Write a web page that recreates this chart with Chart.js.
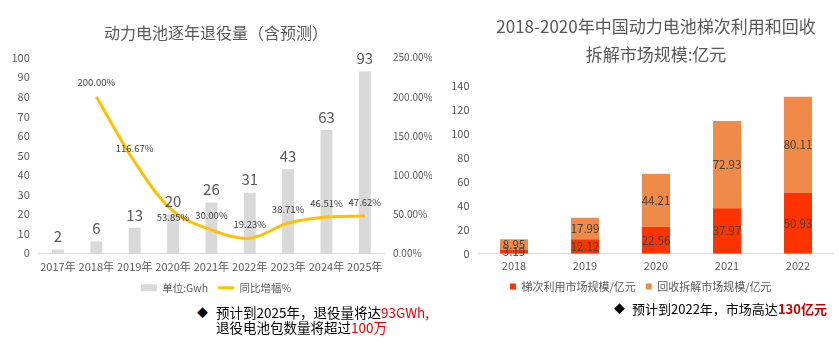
<!DOCTYPE html>
<html>
<head>
<meta charset="utf-8">
<script src="https://cdn.jsdelivr.net/npm/chart.js@4.4.0/dist/chart.umd.min.js"></script>
<style>
  body { margin: 0; background: #fff; width: 839px; height: 352px; overflow: hidden; position: relative;
         font-family: "Noto Sans CJK SC", "Noto Sans", sans-serif; }
  #cajaRetiro { position: absolute; left: 0; top: 0; width: 440px; height: 303px; }
  #cajaMercado { position: absolute; left: 440px; top: 0; width: 399px; height: 302px; }
  .nota { position: absolute; font-size: 13.5px; line-height: 15px; color: #000; white-space: nowrap; }
  .rombo { position: absolute; font-size: 11px; line-height: 15px; color: #000; }
  .rojo { color: #e60000; }
  .rojoFuerte { color: #c00000; font-weight: bold; }
</style>
</head>
<body>
<div id="cajaRetiro"><canvas id="graficoRetiro"></canvas></div>
<div id="cajaMercado"><canvas id="graficoMercado"></canvas></div>

<div class="rombo" style="left:197px;top:305px;">◆</div>
<div class="nota" style="left:216px;top:305px;">预计到2025年，退役量将达<span class="rojo">93GWh,</span><br>退役电池包数量将超过<span class="rojo">100万</span></div>

<div class="rombo" style="left:614px;top:301px;">◆</div>
<div class="nota" style="left:632px;top:301px;font-size:13px;">预计到2022年，市场高达<span class="rojoFuerte">130亿元</span></div>

<script>
// datos del grafico izquierdo
const anios = ['2017年', '2018年', '2019年', '2020年', '2021年', '2022年', '2023年', '2024年', '2025年'];
const retiroGwh = [2, 6, 13, 20, 26, 31, 43, 63, 93];
const crecimiento = [null, 200.00, 116.67, 53.85, 30.00, 19.23, 38.71, 46.51, 47.62];

// datos del grafico derecho
const aniosMercado = ['2018', '2019', '2020', '2021', '2022'];
const escalonado = [3.19, 12.12, 22.56, 37.97, 50.93];
const reciclaje = [8.95, 17.99, 44.21, 72.93, 80.11];

Chart.defaults.font.family = '"Noto Sans CJK SC", "Noto Sans", sans-serif';
Chart.defaults.color = '#595959';

const gris = '#595959';

// etiquetas del grafico izquierdo
const etiquetasRetiro = {
  id: 'etiquetasRetiro',
  afterDatasetsDraw(chart) {
    const ctx = chart.ctx;
    ctx.save();
    ctx.textAlign = 'center';
    ctx.textBaseline = 'middle';
    chart.getDatasetMeta(0).data.forEach((barra, i) => {
      ctx.font = '15px "Noto Sans CJK SC", sans-serif';
      ctx.fillStyle = gris;
      ctx.fillText(retiroGwh[i], barra.x, barra.y - 13);
    });
    chart.getDatasetMeta(1).data.forEach((punto, i) => {
      if (crecimiento[i] == null) return;
      ctx.font = '9.5px "Noto Sans CJK SC", sans-serif';
      ctx.fillStyle = '#404040';
      const desplazamiento = i === 3 ? -6 : 14;
      ctx.fillText(crecimiento[i].toFixed(2) + '%', punto.x, punto.y - desplazamiento);
    });
    ctx.restore();
  }
};

// etiquetas del grafico derecho
const etiquetasMercado = {
  id: 'etiquetasMercado',
  afterDatasetsDraw(chart) {
    const ctx = chart.ctx;
    ctx.save();
    ctx.textAlign = 'center';
    ctx.textBaseline = 'middle';
    ctx.font = '11.5px "Noto Sans CJK SC", sans-serif';
    ctx.fillStyle = '#404040';
    [escalonado, reciclaje].forEach((serie, d) => {
      chart.getDatasetMeta(d).data.forEach((barra, i) => {
        ctx.fillText(serie[i].toFixed(2), barra.x, (barra.y + barra.base) / 2);
      });
    });
    ctx.restore();
  }
};

let chart = new Chart(document.getElementById('graficoRetiro').getContext('2d'), {
  type: 'bar',
  data: {
    labels: anios,
    datasets: [
      {
        label: '单位:Gwh',
        data: retiroGwh,
        backgroundColor: '#d9d9d9',
        borderWidth: 0,
        barPercentage: 0.31,
        categoryPercentage: 1,
        pointStyle: 'rect',
        yAxisID: 'y',
        order: 2
      },
      {
        type: 'line',
        label: '同比增幅%',
        data: crecimiento,
        borderColor: '#ffc000',
        backgroundColor: '#ffc000',
        borderWidth: 3,
        pointRadius: 0,
        tension: 0.35,
        pointStyle: 'line',
        yAxisID: 'y1',
        order: 1
      }
    ]
  },
  options: {
    responsive: true,
    maintainAspectRatio: false,
    animation: false,
    layout: { padding: { left: 0, right: 8, top: 0, bottom: 0 } },
    plugins: {
      title: {
        display: true,
        text: '动力电池逐年退役量（含预测）',
        color: gris,
        font: { size: 16, weight: 'normal' },
        padding: { top: 23.4, bottom: 15.1 }
      },
      legend: {
        position: 'bottom',
        labels: {
          usePointStyle: true,
          pointStyleWidth: 16,
          boxHeight: 7,
          padding: 10,
          color: gris,
          font: { size: 10.5 },
          sort: (a, b) => a.datasetIndex - b.datasetIndex
        }
      },
      tooltip: { enabled: false }
    },
    scales: {
      x: {
        grid: { display: false, drawTicks: false },
        border: { display: true, color: '#d9d9d9' },
        ticks: { padding: 7, color: gris, font: { size: 11 }, maxRotation: 0, minRotation: 0, autoSkip: false },
        afterFit(scale) { scale.height = 19.2; }
      },
      y: {
        position: 'left',
        min: 0, max: 100,
        ticks: { stepSize: 10, padding: 9, color: gris, font: { size: 11 } },
        grid: { display: false, drawTicks: false },
        border: { display: false },
        afterFit(scale) { scale.width = 38.8; }
      },
      y1: {
        position: 'right',
        min: 0, max: 250,
        ticks: {
          stepSize: 50, padding: 9, color: gris, font: { size: 10 },
          callback: v => v.toFixed(2) + '%'
        },
        grid: { display: false, drawTicks: false },
        border: { display: false },
        afterFit(scale) { scale.width = 48; }
      }
    }
  },
  plugins: [etiquetasRetiro]
});

let chartMercado = new Chart(document.getElementById('graficoMercado').getContext('2d'), {
  type: 'bar',
  data: {
    labels: aniosMercado,
    datasets: [
      {
        label: '梯次利用市场规模/亿元',
        data: escalonado,
        backgroundColor: '#ff3300',
        borderWidth: 0,
        barPercentage: 0.394,
        categoryPercentage: 1
      },
      {
        label: '回收拆解市场规模/亿元',
        data: reciclaje,
        backgroundColor: '#ef8a48',
        borderWidth: 0,
        barPercentage: 0.394,
        categoryPercentage: 1
      }
    ]
  },
  options: {
    responsive: true,
    maintainAspectRatio: false,
    animation: false,
    layout: { padding: { left: 8, right: 5.5, top: 0, bottom: 0 } },
    plugins: {
      title: {
        display: true,
        fullSize: false,
        text: ['2018-2020年中国动力电池梯次利用和回收', '拆解市场规模:亿元'],
        color: gris,
        font: { size: 17, weight: 'normal', lineHeight: 28 / 17 },
        padding: { top: 13, bottom: 17 }
      },
      legend: {
        position: 'bottom',
        labels: {
          boxWidth: 6,
          boxHeight: 6,
          padding: 10,
          color: gris,
          font: { size: 11 }
        }
      },
      tooltip: { enabled: false }
    },
    scales: {
      x: {
        stacked: true,
        grid: { display: false, drawTicks: false },
        border: { display: true, color: '#d9d9d9' },
        ticks: { padding: 5, color: gris, font: { size: 11 }, maxRotation: 0, autoSkip: false },
        afterFit(scale) { scale.height = 17.2; }
      },
      y: {
        stacked: true,
        min: 0, max: 140,
        ticks: { stepSize: 20, padding: 9, color: gris, font: { size: 11 } },
        grid: { display: false, drawTicks: false },
        border: { display: false },
        afterFit(scale) { scale.width = 30.5; }
      }
    }
  },
  plugins: [etiquetasMercado]
});
</script>
</body>
</html>
